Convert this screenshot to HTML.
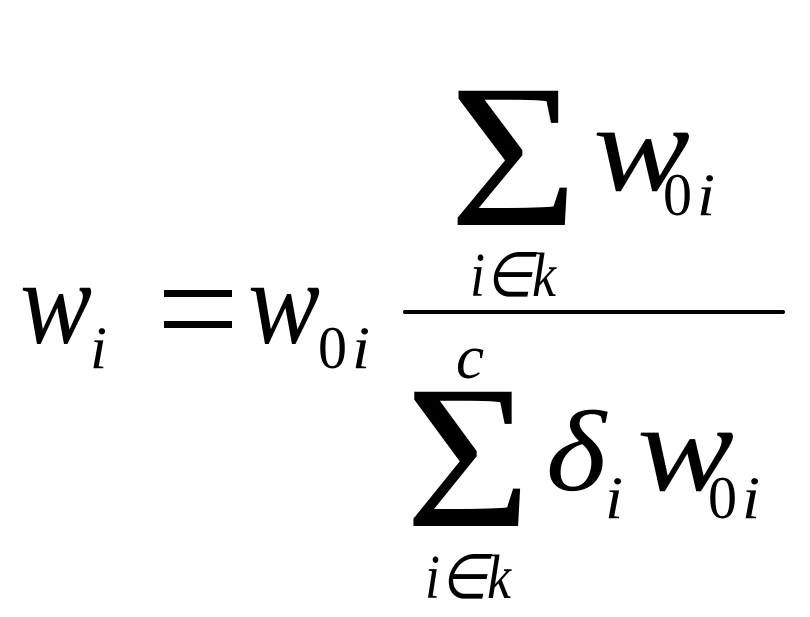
<!DOCTYPE html>
<html><head><meta charset="utf-8"><style>html,body{margin:0;padding:0;background:#fff}svg{display:block}</style></head>
<body>
<svg width="810" height="617" viewBox="0 0 810 617" xmlns="http://www.w3.org/2000/svg" font-family="Liberation Serif, serif" fill="#000">
<g font-style="italic">
<text x="20" y="343" font-size="120" textLength="72" lengthAdjust="spacingAndGlyphs">w</text>
<text x="90" y="368" font-size="60" textLength="17" lengthAdjust="spacingAndGlyphs">i</text>
<text x="248" y="343" font-size="120" textLength="72" lengthAdjust="spacingAndGlyphs">w</text>
<text x="352" y="368" font-size="60" textLength="18" lengthAdjust="spacingAndGlyphs">i</text>
<text x="593" y="190" font-size="125" textLength="97" lengthAdjust="spacingAndGlyphs">w</text>
<text x="697" y="215" font-size="60" textLength="18" lengthAdjust="spacingAndGlyphs">i</text>
<text x="470" y="296" font-size="62" textLength="86" lengthAdjust="spacingAndGlyphs">i∈k</text>
<text x="456" y="378" font-size="62" textLength="28" lengthAdjust="spacingAndGlyphs">c</text>
<text x="546" y="490" font-size="115" textLength="60" lengthAdjust="spacingAndGlyphs">δ</text>
<text x="605" y="518" font-size="60" textLength="18" lengthAdjust="spacingAndGlyphs">i</text>
<text x="637" y="490" font-size="125" textLength="97" lengthAdjust="spacingAndGlyphs">w</text>
<text x="742" y="518" font-size="60" textLength="18" lengthAdjust="spacingAndGlyphs">i</text>
<text x="425" y="598" font-size="62" textLength="86" lengthAdjust="spacingAndGlyphs">i∈k</text>
</g>
<text x="318" y="368" font-size="60" textLength="29" lengthAdjust="spacingAndGlyphs">0</text>
<text x="663" y="215" font-size="60" textLength="29" lengthAdjust="spacingAndGlyphs">0</text>
<text x="708" y="518" font-size="60" textLength="29" lengthAdjust="spacingAndGlyphs">0</text>
<rect x="164" y="290" width="68" height="7"/>
<rect x="164" y="321" width="68" height="7"/>
<rect x="403" y="310" width="382" height="4" rx="2"/>
<text x="449" y="225" font-size="205" textLength="129" lengthAdjust="spacingAndGlyphs">Σ</text>
<text x="405" y="526" font-size="205" textLength="126" lengthAdjust="spacingAndGlyphs">Σ</text>
</svg>
</body></html>
